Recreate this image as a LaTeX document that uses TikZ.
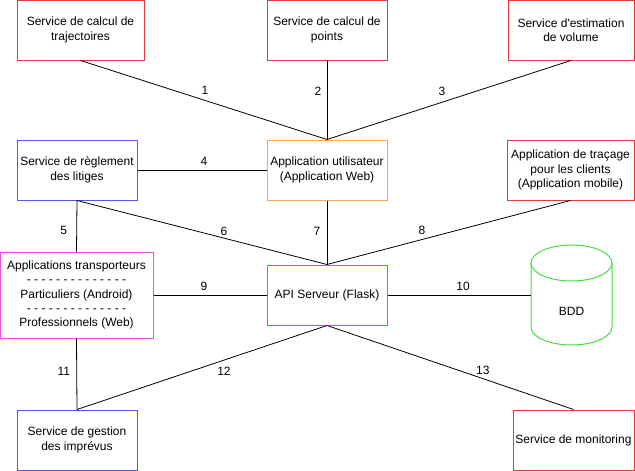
\documentclass[tikz,border=0pt]{standalone}
\usepackage{fontspec}
\setmainfont{Liberation Sans}
\definecolor{cred}{RGB}{222,60,60}
\definecolor{cblue}{RGB}{85,85,230}
\definecolor{corange}{RGB}{245,170,80}
\definecolor{cmag}{RGB}{228,80,228}
\definecolor{cgreen}{RGB}{70,220,70}
\definecolor{cgreenbox}{RGB}{20,210,20}
\begin{document}
\begin{tikzpicture}[x=1pt,y=-1pt,
  box/.style={draw=#1, line width=1pt, fill=white, minimum height=60pt, inner sep=2pt,
    align=center, font=\fontsize{12}{14.4}\selectfont},
  conn/.style={line width=0.8pt, black},
  lbl/.style={font=\fontsize{12}{14}\selectfont, inner sep=1pt}]
\useasboundingbox (0,0) rectangle (635,471);
\node[box=cred, minimum width=127pt] (traj) at (80.5,30) {Service de calcul de\\trajectoires};
\node[box=cred, minimum width=120pt] (pts) at (327,30) {Service de calcul de\\points};
\node[box=cred, minimum width=126pt] (vol) at (571,30) {Service d\textquotesingle estimation\\de volume};
\node[box=cblue, minimum width=120pt] (lit) at (77,170) {Service de règlement\\des litiges};
\node[box=corange, minimum width=120pt] (app) at (327,170) {Application utilisateur\\(Application Web)};
\node[box=cred, minimum width=127pt] (trac) at (570.5,170) {Application de traçage\\pour les clients\\(Application mobile)};
\node[box=cmag, minimum width=153pt, minimum height=86pt] (trans) at (76.5,295) {Applications transporteurs\\- - - - - - - - - - - - - -\\Particuliers (Android)\\- - - - - - - - - - - - - -\\Professionnels (Web)};
\node[box=cgreenbox, minimum width=120pt] (api) at (327,295) {API Serveur (Flask)};
\node[minimum width=81pt, minimum height=100pt, inner sep=0pt] (bdd) at (571.5,295) {};
\node[box=cblue, minimum width=120pt] (imp) at (77,440) {Service de gestion\\des imprévus};
\node[box=cred, minimum width=121pt] (mon) at (573.5,440) {Service de monitoring};
% cylinder
\draw[cgreen, line width=1pt] (531,263) -- (531,327) arc[start angle=180, end angle=0, x radius=40.5, y radius=18] -- (612,263);
\draw[cgreen, line width=1pt] (571.5,263) ellipse[x radius=40.5, y radius=18];
\node[font=\fontsize{12}{14.4}\selectfont] (bddtxt) at (571.5,311) {BDD};
% connectors
\draw[conn] (traj.south) -- node[lbl, pos=.505, yshift=10pt] {1} (app.north);
\draw[conn] (pts.south) -- node[lbl, pos=.39, xshift=-9pt] {2} (app.north);
\draw[conn] (vol.south) -- node[lbl, pos=.529, yshift=11pt] {3} (app.north);
\draw[conn] (lit.east) -- node[lbl, pos=.515, yshift=9pt] {4} (app.west);
\draw[conn] (lit.south) -- node[lbl, pos=.58, xshift=-13pt] {5} (trans.north);
\draw[conn] (lit.south) -- node[lbl, pos=.588, yshift=7pt] {6} (api.north);
\draw[conn] (app.south) -- node[lbl, pos=.48, xshift=-10pt] {7} (api.north);
\draw[conn] (trac.south) -- node[lbl, pos=.61, yshift=9pt] {8} (api.north);
\draw[conn] (trans.east) -- node[lbl, pos=.447, yshift=9pt] {9} (api.west);
\draw[conn] (api.east) -- node[lbl, pos=.528, yshift=9pt] {10} (bdd.west);
\draw[conn] (trans.south) -- node[lbl, pos=.46, xshift=-13pt] {11} (imp.north);
\draw[conn] (api.south) -- node[lbl, pos=.412, yshift=-11pt] {12} (imp.north);
\draw[conn] (api.south) -- node[lbl, pos=.632, yshift=8pt] {13} (mon.north);
\end{tikzpicture}
\end{document}
